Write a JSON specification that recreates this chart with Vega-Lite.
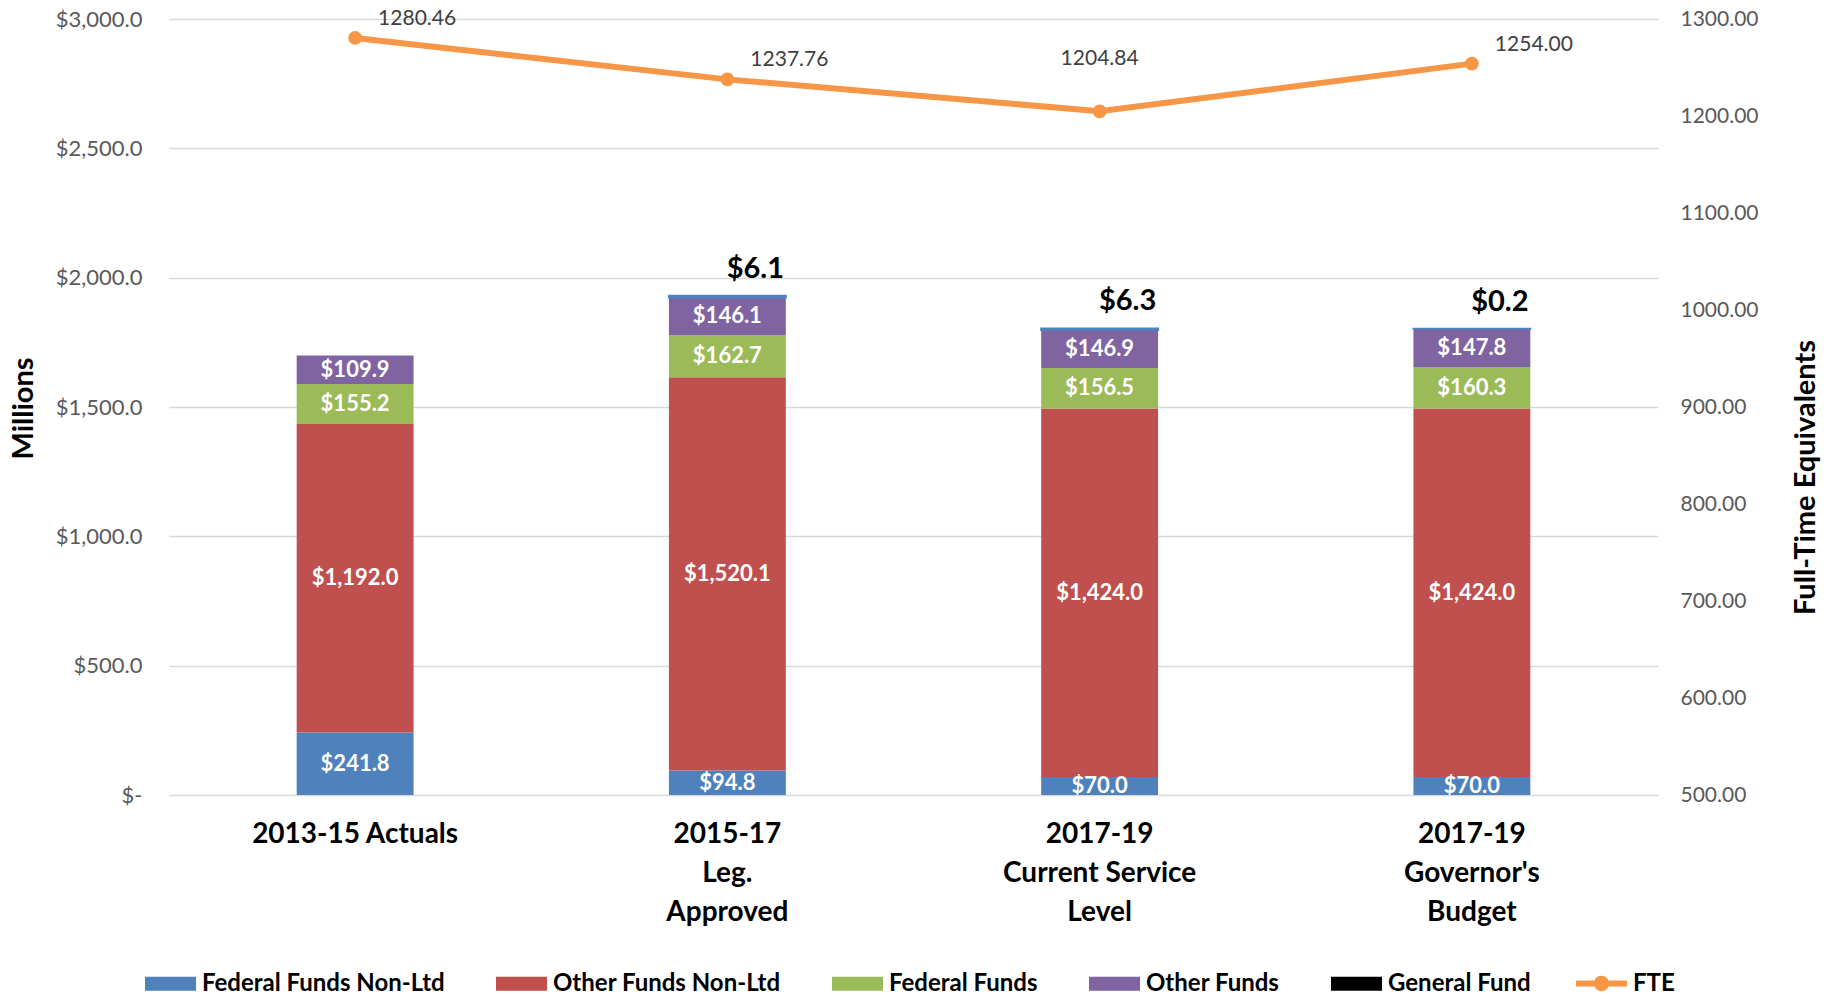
{
  "$schema": "https://vega.github.io/schema/vega-lite/v6.json",
  "width": 1489,
  "height": 776,
  "autosize": {"type": "none"},
  "padding": {"left": 169, "top": 19, "right": 170, "bottom": 204},
  "background": "white",
  "config": {"view": {"stroke": null}, "font": "Lato"},
  "datasets": {
    "funds": [
      {"period": "2013-15 Actuals", "fund": "Federal Funds Non-Ltd", "k": 1, "value": 241.8},
      {"period": "2013-15 Actuals", "fund": "Other Funds Non-Ltd", "k": 2, "value": 1192.0},
      {"period": "2013-15 Actuals", "fund": "Federal Funds", "k": 3, "value": 155.2},
      {"period": "2013-15 Actuals", "fund": "Other Funds", "k": 4, "value": 109.9},
      {"period": "2015-17|Leg.|Approved", "fund": "Federal Funds Non-Ltd", "k": 1, "value": 94.8},
      {"period": "2015-17|Leg.|Approved", "fund": "Other Funds Non-Ltd", "k": 2, "value": 1520.1},
      {"period": "2015-17|Leg.|Approved", "fund": "Federal Funds", "k": 3, "value": 162.7},
      {"period": "2015-17|Leg.|Approved", "fund": "Other Funds", "k": 4, "value": 146.1},
      {"period": "2015-17|Leg.|Approved", "fund": "General Fund", "k": 5, "value": 6.1},
      {"period": "2017-19|Current Service|Level", "fund": "Federal Funds Non-Ltd", "k": 1, "value": 70.0},
      {"period": "2017-19|Current Service|Level", "fund": "Other Funds Non-Ltd", "k": 2, "value": 1424.0},
      {"period": "2017-19|Current Service|Level", "fund": "Federal Funds", "k": 3, "value": 156.5},
      {"period": "2017-19|Current Service|Level", "fund": "Other Funds", "k": 4, "value": 146.9},
      {"period": "2017-19|Current Service|Level", "fund": "General Fund", "k": 5, "value": 6.3},
      {"period": "2017-19|Governor's|Budget", "fund": "Federal Funds Non-Ltd", "k": 1, "value": 70.0},
      {"period": "2017-19|Governor's|Budget", "fund": "Other Funds Non-Ltd", "k": 2, "value": 1424.0},
      {"period": "2017-19|Governor's|Budget", "fund": "Federal Funds", "k": 3, "value": 160.3},
      {"period": "2017-19|Governor's|Budget", "fund": "Other Funds", "k": 4, "value": 147.8},
      {"period": "2017-19|Governor's|Budget", "fund": "General Fund", "k": 5, "value": 0.2}
    ],
    "fte": [
      {"period": "2013-15 Actuals", "fte": 1280.46},
      {"period": "2015-17|Leg.|Approved", "fte": 1237.76},
      {"period": "2017-19|Current Service|Level", "fte": 1204.84},
      {"period": "2017-19|Governor's|Budget", "fte": 1254.00}
    ]
  },
  "encoding": {
    "x": {
      "field": "period",
      "type": "nominal",
      "sort": ["2013-15 Actuals", "2015-17|Leg.|Approved", "2017-19|Current Service|Level", "2017-19|Governor's|Budget"],
      "scale": {"paddingInner": 0.686, "paddingOuter": 0.343},
      "axis": {
        "title": null,
        "labelAngle": 0,
        "labelExpr": "split(datum.label, '|')",
        "labelFontSize": 28,
        "labelFontWeight": "bold",
        "labelColor": "black",
        "labelLimit": 500,
        "labelPadding": 25,
        "labelBaseline": "top",
        "labelLineHeight": 39,
        "domain": false,
        "ticks": false
      }
    }
  },
  "layer": [
    {
      "data": {"name": "funds"},
      "layer": [
        {
          "mark": {"type": "bar", "strokeWidth": 2},
          "encoding": {
            "y": {
              "field": "value",
              "type": "quantitative",
              "stack": "zero",
              "scale": {"domain": [0, 3000], "nice": false},
              "axis": {
                "title": "Millions",
                "titleFontSize": 29,
                "titleFontWeight": "bold",
                "titleColor": "black",
                "titleAngle": 270,
                "titleX": -146,
                "titleY": 389,
                "titleBaseline": "middle",
                "values": [0, 500, 1000, 1500, 2000, 2500, 3000],
                "labelExpr": "datum.value === 0 ? '$-' : format(datum.value, '$,.1f')",
                "labelFontSize": 22,
                "labelColor": "#595959",
                "labelPadding": 27,
                "gridColor": "#D9D9D9",
                "gridWidth": 1.5,
                "domain": false,
                "ticks": false
              }
            },
            "color": {
              "field": "fund",
              "type": "nominal",
              "sort": ["Federal Funds Non-Ltd", "Other Funds Non-Ltd", "Federal Funds", "Other Funds", "General Fund"],
              "scale": {
                "domain": ["Federal Funds Non-Ltd", "Other Funds Non-Ltd", "Federal Funds", "Other Funds", "General Fund"],
                "range": ["#4F81BD", "#C0504D", "#9BBB59", "#8064A2", "#000000"]
              },
              "legend": {
                "title": null,
                "orient": "none",
                "direction": "horizontal",
                "legendX": -24,
                "legendY": 939,
                "symbolType": "M-1,-0.27L1,-0.27L1,0.27L-1,0.27Z",
                "symbolSize": 2601,
                "symbolStrokeWidth": 0,
                "labelFontSize": 24,
                "labelFontWeight": "bold",
                "labelColor": "black",
                "labelOffset": 6,
                "columnPadding": 51,
                "labelLimit": 400,
                "encode": {
                  "symbols": {
                    "update": {
                      "stroke": {"signal": "datum.value === 'General Fund' ? '#4F81BD' : 'transparent'"},
                      "strokeWidth": {"value": 2}
                    }
                  }
                }
              }
            },
            "order": {"field": "k", "type": "quantitative"},
            "stroke": {
              "condition": {"test": "datum.fund === 'General Fund'", "value": "#4F81BD"},
              "value": null
            }
          }
        },
        {
          "transform": [{"filter": "datum.fund !== 'General Fund'"}],
          "mark": {"type": "text", "color": "white", "fontWeight": "bold", "fontSize": 22, "baseline": "middle"},
          "encoding": {
            "y": {"field": "value", "type": "quantitative", "stack": "zero", "bandPosition": 0.5},
            "order": {"field": "k", "type": "quantitative"},
            "text": {"field": "value", "type": "quantitative", "format": "$,.1f"}
          }
        },
        {
          "transform": [
            {"stack": "value", "groupby": ["period"], "sort": [{"field": "k"}], "as": ["v0", "v1"]},
            {"filter": "datum.fund === 'General Fund'"}
          ],
          "mark": {"type": "text", "color": "black", "fontWeight": "bold", "fontSize": 29, "baseline": "bottom", "dx": 28, "dy": -12},
          "encoding": {
            "y": {"field": "v1", "type": "quantitative"},
            "text": {"field": "value", "type": "quantitative", "format": "$,.1f"}
          }
        }
      ]
    },
    {
      "data": {"name": "fte"},
      "layer": [
        {
          "mark": {"type": "line", "strokeWidth": 6, "point": {"filled": true, "size": 190}},
          "encoding": {
            "y": {
              "field": "fte",
              "type": "quantitative",
              "scale": {"domain": [500, 1300], "nice": false},
              "axis": {
                "orient": "right",
                "title": "Full-Time Equivalents",
                "titleFontSize": 29,
                "titleFontWeight": "bold",
                "titleColor": "black",
                "titleAngle": 270,
                "titleX": 147,
                "titleY": 458,
                "titleBaseline": "middle",
                "values": [500, 600, 700, 800, 900, 1000, 1100, 1200, 1300],
                "format": ".2f",
                "labelFontSize": 21,
                "labelColor": "#595959",
                "labelPadding": 22,
                "grid": false,
                "domain": false,
                "ticks": false
              }
            },
            "color": {
              "datum": "FTE",
              "type": "nominal",
              "scale": {"domain": ["FTE"], "range": ["#F79646"]},
              "legend": {
                "title": null,
                "orient": "none",
                "direction": "horizontal",
                "legendX": 1407,
                "legendY": 939,
                "symbolType": "M-1,-0.12L1,-0.12L1,0.12L-1,0.12Z M0.3,0A0.3,0.3 0 1,1 -0.3,0A0.3,0.3 0 1,1 0.3,0Z",
                "symbolSize": 2601,
                "labelFontSize": 24,
                "labelFontWeight": "bold",
                "labelColor": "black",
                "labelOffset": 6,
                "encode": {
                  "symbols": {
                    "update": {
                      "fill": {"value": "#F79646"},
                      "stroke": {"value": "transparent"},
                      "strokeWidth": {"value": 0}
                    }
                  }
                }
              }
            }
          }
        },
        {
          "transform": [{"filter": "datum.fte !== 1204.84"}],
          "mark": {"type": "text", "color": "#404040", "fontSize": 21, "dx": 62, "dy": -19, "baseline": "middle"},
          "encoding": {
            "y": {"field": "fte", "type": "quantitative"},
            "text": {"field": "fte", "type": "quantitative", "format": ".2f"}
          }
        },
        {
          "transform": [{"filter": "datum.fte === 1204.84"}],
          "mark": {"type": "text", "color": "#404040", "fontSize": 21, "dx": 0, "dy": -52, "baseline": "middle"},
          "encoding": {
            "y": {"field": "fte", "type": "quantitative"},
            "text": {"field": "fte", "type": "quantitative", "format": ".2f"}
          }
        }
      ]
    }
  ],
  "resolve": {"scale": {"y": "independent", "color": "independent"}}
}
